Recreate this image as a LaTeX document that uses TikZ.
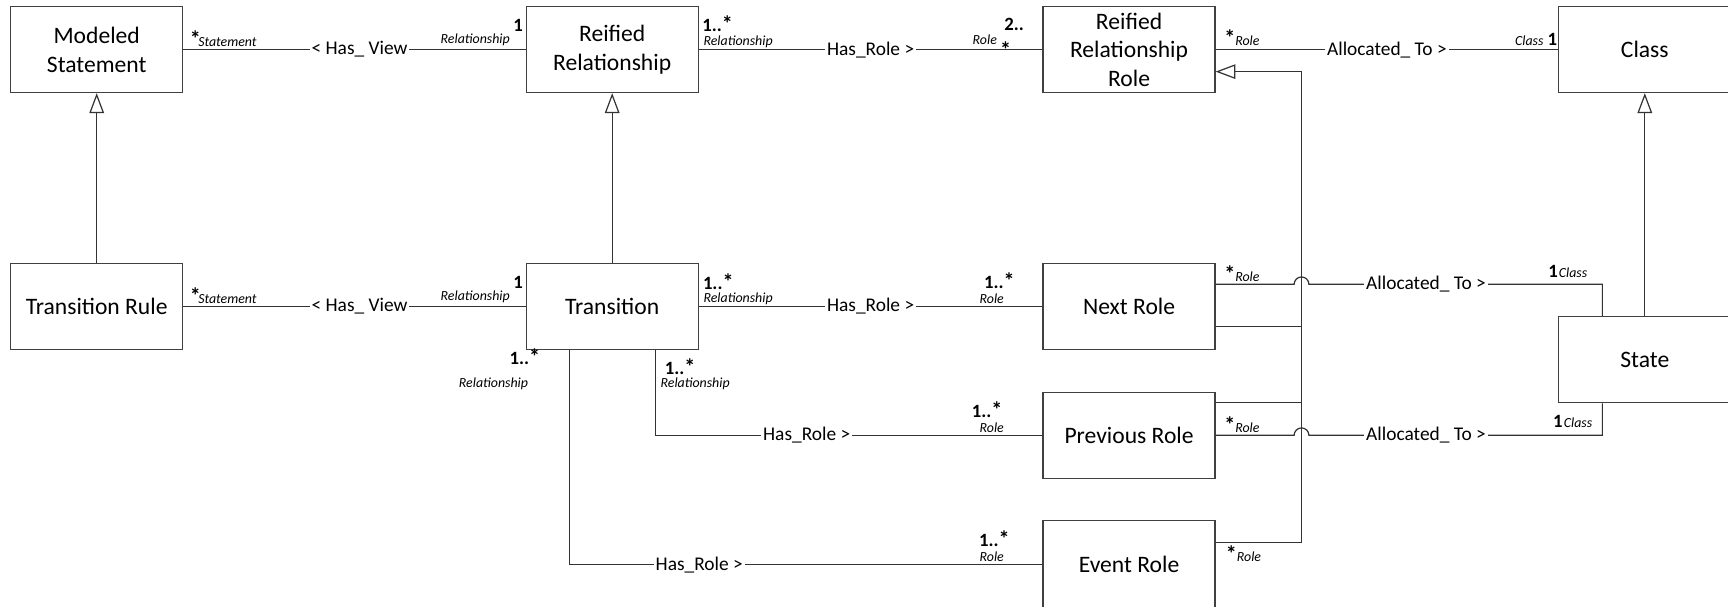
\documentclass[tikz,border=0pt]{standalone}
\usepackage{fontspec}
\setmainfont{Carlito}
\usetikzlibrary{arrows.meta}
\newcommand\umlrole[1]{{\fontsize{6.3}{7}\selectfont\itshape\mdseries #1}}
\newcommand\umlstar{{\fontsize{10}{10}\selectfont *}}
\begin{document}
\begin{tikzpicture}[x=0.5pt,y=-0.5pt,
 box/.style={draw=black!75, line width=0.55pt, minimum width=78pt, minimum height=39pt, inner sep=0pt, align=center, font=\fontsize{10.7}{13}\selectfont},
 conn/.style={draw=black!80, line width=0.55pt},
 gen/.style={conn, -{Triangle[open, length=9pt, width=6.6pt]}},
 lbl/.style={fill=white, inner sep=0.8pt, font=\fontsize{8.8}{10}\selectfont},
 mlt/.style={inner sep=0pt, font=\fontsize{8.5}{10}\selectfont\bfseries},
 rl/.style={inner sep=0pt, font=\fontsize{6.3}{7}\selectfont\itshape},
 ]
\fill[white] (0,0) rectangle (1568,550);
\useasboundingbox (0,0) rectangle (1568,550);

% classes
\node[box] (ms) at (87.75,45) {Modeled\\Statement};
\node[box] (rr) at (555.5,45) {Reified\\Relationship};
\node[box] (rrr) at (1024.5,45) {Reified\\Relationship\\Role};
\node[box] (cl) at (1492.5,45) {Class};
\node[box] (tr) at (87.75,278) {Transition Rule};
\node[box] (tn) at (555.5,278) {Transition};
\node[box] (nr) at (1024.5,278) {Next Role};
\node[box] (st) at (1492.5,326.5) {State};
\node[box] (pr) at (1024.5,395) {Previous Role};
\node[box, minimum height=40pt] (er) at (1024.5,512.5) {Event Role};

% generalizations
\draw[gen] (tr) -- (ms);
\draw[gen] (tn) -- (rr);
\draw[gen] (st) -- (cl);
\coordinate (busTop) at (1181,65);
\coordinate (busBot) at (1181,492);
\draw[gen] ([yshift=10.25pt]er.east) -- (busBot) -- (busTop) -- ([yshift=-10pt]rrr.east);
\draw[conn] ([yshift=-9pt]nr.east) -- (1181,296);
\draw[conn] ([yshift=14.8pt]pr.east) -- (1181,365.4);

% associations
\draw[conn] (ms) -- node[lbl,pos=0.515] (hv1) {< Has\_ View} (rr);
\draw[conn] (tr) -- node[lbl,pos=0.515] (hv2) {< Has\_ View} (tn);
\draw[conn] (rr) -- node[lbl,pos=0.5] (hr1) {Has\_Role >} (rrr);
\draw[conn] (tn) -- node[lbl,pos=0.5] (hr2) {Has\_Role >} (nr);
\draw[conn] (rrr) -- node[lbl,pos=0.5] (al1) {Allocated\_ To >} (cl);

\draw[conn] ([yshift=10pt]nr.east) -- (1174.3,258) arc[start angle=180,end angle=0,radius=3.35pt] -- (1454,258) -- ([xshift=-19.25pt]st.north);
\node[lbl] (al2) at (1294,258) {Allocated\_ To >};
\draw[conn] (pr.east) -- (1174.3,395) arc[start angle=180,end angle=0,radius=3.35pt] -- (1454,395) -- ([xshift=-19.25pt]st.south);
\node[lbl] (al3) at (1294,395) {Allocated\_ To >};

\draw[conn] ([xshift=19.75pt]tn.south) |- (pr.west);
\node[lbl] (hr3) at (732,395) {Has\_Role >};
\draw[conn] ([xshift=-19.25pt]tn.south) |- (er.west);
\node[lbl] (hr4) at (634.5,512.5) {Has\_Role >};

% ends: Has_View top
\node[mlt,anchor=base west] (e1) at (172,42) {\umlstar\kern-1.2pt\umlrole{Statement}};
\node[rl,anchor=base east] (e2) at (463,39.5) {Relationship};
\node[mlt,anchor=base west] (e3) at (465.5,29) {1};
% Has_View middle
\node[mlt,anchor=base west] (e4) at (172,275.5) {\umlstar\kern-1.2pt\umlrole{Statement}};
\node[rl,anchor=base east] (e5) at (463,272.5) {Relationship};
\node[mlt,anchor=base west] (e6) at (465.5,262) {1};
% Has_Role top
\node[mlt,anchor=base west] (e7) at (637,29) {1..\umlstar};
\node[rl,anchor=base west] (e8) at (638,41.5) {Relationship};
\node[rl,anchor=base east] (e9) at (905,40.5) {Role};
\node[mlt,anchor=base west] (e10) at (911,28) {2..};
\node[mlt,anchor=base west] (e11) at (907,52.5) {\umlstar};
% Has_Role middle
\node[mlt,anchor=base west] (e12) at (637.5,262.5) {1..\umlstar};
\node[rl,anchor=base west] (e13) at (638,274.6) {Relationship};
\node[mlt,anchor=base west] (e14) at (892.5,262) {1..\umlstar};
\node[rl,anchor=base west] (e15) at (888.5,275.3) {Role};
% Allocated top
\node[mlt,anchor=base west] (e16) at (1110.5,41.3) {\umlstar\umlrole{Role}};
\node[rl,anchor=base east] (e17) at (1401,41.3) {Class};
\node[mlt,anchor=base west] (e18) at (1404,41.3) {1};
% Allocated next
\node[mlt,anchor=base west] (e19) at (1110.5,255.6) {\umlstar\umlrole{Role}};
\node[mlt,anchor=base west] (e20) at (1404.5,251.6) {1\kern0.5pt\umlrole{Class}};
% Allocated previous
\node[mlt,anchor=base west] (e21) at (1110.5,392.6) {\umlstar\umlrole{Role}};
\node[mlt,anchor=base west] (e22) at (1409,388) {1\kern0.5pt\umlrole{Class}};
% Transition -> Previous
\node[mlt,anchor=base west] (e23) at (603,339.5) {1..\umlstar};
\node[rl,anchor=base west] (e24) at (599,352) {Relationship};
\node[mlt,anchor=base west] (e25) at (881.5,379) {1..\umlstar};
\node[rl,anchor=base west] (e26) at (888.5,392.3) {Role};
% Transition -> Event
\node[mlt,anchor=base west] (e27) at (462,331) {1..\umlstar};
\node[rl,anchor=base west] (e28) at (416,352) {Relationship};
\node[mlt,anchor=base west] (e29) at (888,495.5) {1..\umlstar};
\node[rl,anchor=base west] (e30) at (888.5,509.7) {Role};
% Event role generalization end
\node[mlt,anchor=base west] (e31) at (1112,509.7) {\umlstar\umlrole{Role}};
\end{tikzpicture}
\end{document}
